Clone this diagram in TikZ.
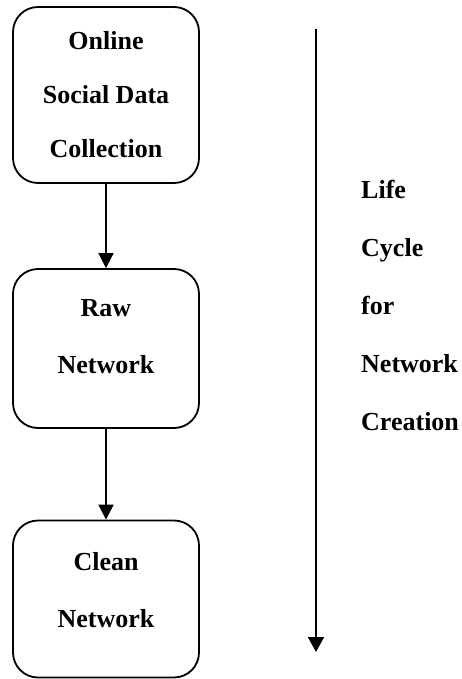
\documentclass[tikz,border=0pt]{standalone}
\usepackage{fontspec}
\setmainfont{Liberation Serif}
\usetikzlibrary{arrows.meta}
\begin{document}
\begin{tikzpicture}[x=1pt,y=-1pt,
  box/.style={draw,line width=1.8pt,rounded corners=25pt,minimum width=186pt,inner sep=0pt,align=center,font=\bfseries\fontsize{26}{57}\selectfont},
  conn/.style={line width=1.8pt,-{Triangle[width=15pt,length=15pt]}},
  side/.style={align=left,anchor=west,inner sep=0pt,font=\bfseries\fontsize{26}{58}\selectfont}]
\useasboundingbox (0,0) rectangle (462,679);
\node[box,minimum height=176pt,font=\bfseries\fontsize{26}{54}\selectfont] (b1) at (106,95) {Online\\Social Data\\Collection};
\node[box,minimum height=159pt] (b2) at (106,348.5) {Raw\\Network\rule[-24pt]{0pt}{0pt}};
\node[box,minimum height=157pt] (b3) at (106,599) {Clean\\Network\rule[-18pt]{0pt}{0pt}};
\draw[conn] (b1) -- (b2);
\draw[conn] (b2) -- (b3);
\coordinate (top) at (316,29);
\coordinate (bot) at (316,652);
\draw[line width=1.8pt,-{Triangle[width=16pt,length=15pt]}] (top) -- (bot);
\node[side] (life) at (361,305) {Life\\Cycle\\for\\Network\\Creation};
\end{tikzpicture}
\end{document}
